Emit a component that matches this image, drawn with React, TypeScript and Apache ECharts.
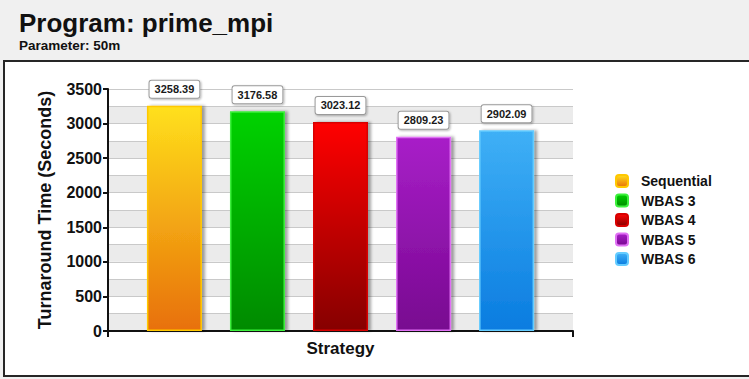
import React, { useEffect, useRef } from "react";
import * as echarts from "echarts";

// Turnaround time per scheduling strategy (seconds)
const strategies = ["Sequential", "WBAS 3", "WBAS 4", "WBAS 5", "WBAS 6"];
const turnaround = [3258.39, 3176.58, 3023.12, 2809.23, 2902.09];

const programName = "Program: prime_mpi";
const parameterText = "Parameter: 50m";
const yAxisTitle = "Turnaround Time (Seconds)";
const xAxisTitle = "Strategy";

// Gradient top / bottom and outline colour for each strategy
const barTop = ["#ffe01c", "#00d200", "#ff0606", "#a81fc8", "#3fb0f6"];
const barBottom = ["#e8700a", "#008a00", "#860000", "#780890", "#0a7ce0"];
const barEdge = ["#ffc800", "#3cf03c", "#d80000", "#e070f4", "#64ccff"];

const FONT = "'Liberation Sans', Arial, Helvetica, sans-serif";

export default function App() {
  const ref = useRef<HTMLDivElement>(null);

  useEffect(() => {
    if (!ref.current) return;
    const chart = echarts.init(ref.current, null, { renderer: "svg" });

    const series = strategies.map((name, i) => ({
      name,
      type: "bar" as const,
      stack: "strategy",
      barWidth: 55,
      xAxisIndex: 0,
      yAxisIndex: 0,
      data: [[0.8 + i, turnaround[i]]],
      itemStyle: {
        color: new echarts.graphic.LinearGradient(0, 0, 0, 1, [
          { offset: 0, color: barTop[i] },
          { offset: 1, color: barBottom[i] },
        ]),
        borderColor: barEdge[i],
        borderWidth: 1.5,
        shadowColor: "rgba(0,0,0,0.35)",
        shadowBlur: 3,
        shadowOffsetX: 3,
        shadowOffsetY: 0,
      },
      label: {
        show: true,
        position: "top" as const,
        distance: 8,
        formatter: (p: any) => Number(p.value[1]).toFixed(2),
        backgroundColor: "#ffffff",
        borderColor: "#9a9a9a",
        borderWidth: 1,
        borderRadius: 2,
        padding: [2, 5, 2, 5],
        color: "#1a1a1a",
        fontFamily: FONT,
        fontWeight: "bold" as const,
        fontSize: 11,
        lineHeight: 13,
        shadowColor: "rgba(0,0,0,0.3)",
        shadowBlur: 2,
        shadowOffsetX: 1,
        shadowOffsetY: 1,
      },
    }));

    chart.setOption({
      animation: false,
      backgroundColor: "#f0f0f0",
      textStyle: { fontFamily: FONT },
      graphic: [
        {
          type: "rect",
          z: -10,
          shape: { x: 4, y: 61, width: 800, height: 315 },
          style: { fill: "#ffffff", stroke: "#262626", lineWidth: 2 },
        },
        {
          type: "text",
          left: 19,
          top: 10,
          style: {
            text: programName,
            fill: "#111",
            font: `bold 26px ${FONT}`,
          },
        },
        {
          type: "text",
          left: 19,
          top: 38,
          style: {
            text: parameterText,
            fill: "#111",
            font: `bold 13.5px ${FONT}`,
          },
        },
      ],
      grid: { left: 108, right: 176, top: 89, bottom: 48, containLabel: false },
      legend: {
        orient: "vertical",
        left: 610,
        top: 169,
        icon: "roundRect",
        itemWidth: 12,
        itemHeight: 12,
        itemGap: 5.5,
        data: strategies,
        textStyle: {
          fontFamily: FONT,
          fontWeight: "bold",
          fontSize: 14,
          lineHeight: 14,
          color: "#111",
          padding: [0, 0, 0, 8],
        },
      },
      xAxis: {
        type: "value",
        min: 0,
        max: 5.6,
        interval: 5.6,
        name: xAxisTitle,
        nameLocation: "middle",
        nameGap: 9,
        nameTextStyle: {
          fontFamily: FONT,
          fontWeight: "bold",
          fontSize: 17,
          color: "#111",
          verticalAlign: "top",
        },
        axisLine: { show: true, lineStyle: { color: "#111", width: 2 } },
        axisTick: { show: true, length: 6, lineStyle: { color: "#111", width: 2 } },
        axisLabel: { show: false },
        splitLine: { show: false },
      },
      yAxis: [
        {
          type: "value",
          min: 0,
          max: 3500,
          interval: 500,
          name: yAxisTitle,
          nameLocation: "middle",
          nameGap: 54,
          nameTextStyle: {
            fontFamily: FONT,
            fontWeight: "bold",
            fontSize: 18,
            color: "#111",
          },
          axisLine: { show: true, lineStyle: { color: "#111", width: 2 } },
          axisTick: { show: true, length: 5, lineStyle: { color: "#111", width: 2 } },
          axisLabel: {
            margin: 6,
            fontFamily: FONT,
            fontWeight: "bold",
            fontSize: 16,
            color: "#111",
            formatter: (v: number) => String(v),
          },
          splitLine: { show: false },
          z: 5,
        },
        {
          // background bands and grid lines every 250 seconds
          type: "value",
          min: 0,
          max: 3500,
          interval: 250,
          position: "right",
          axisLine: { show: false },
          axisTick: { show: false },
          axisLabel: { show: false },
          splitLine: { show: true, lineStyle: { color: "#c9c9c9", width: 1 } },
          splitArea: { show: true, areaStyle: { color: ["#ebebeb", "#ffffff"] } },
          z: 0,
        },
      ],
      series,
    });

    return () => chart.dispose();
  }, []);

  return (
    <div
      ref={ref}
      style={{ position: "absolute", left: 0, top: 0, width: 749, height: 379 }}
    />
  );
}
